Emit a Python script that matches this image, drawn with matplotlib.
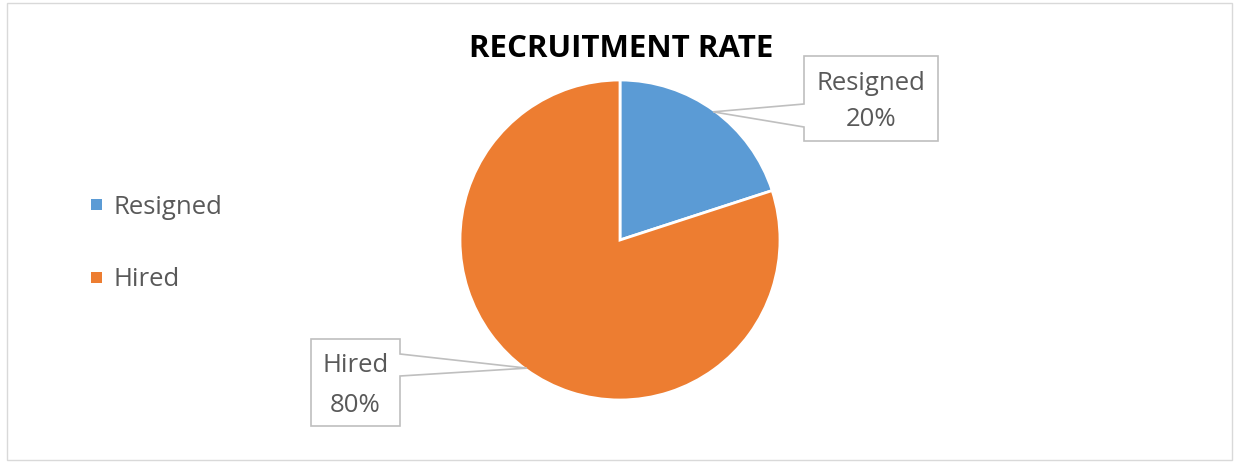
import matplotlib.pyplot as plt
from matplotlib.patches import Rectangle, Polygon
import numpy as np

labels = ["Resigned", "Hired"]
shares = [20, 80]
colors = ["#5B9BD5", "#ED7D31"]

W, H = 1235, 463
fig = plt.figure(figsize=(W / 100, H / 100), dpi=100)
ax = fig.add_axes([0, 0, 1, 1])

font = "Open Sans"
grey = "#595959"

# pie, sized in pixel units of the figure
cx, cy, r = 620, H - 240, 160
wedges, _ = ax.pie(shares, colors=colors, startangle=90, counterclock=False,
                   center=(cx, cy), radius=r, frame=True,
                   wedgeprops=dict(edgecolor="white", linewidth=2))
ax.set_xlim(0, W)
ax.set_ylim(0, H)
ax.set_aspect("equal")
ax.axis("off")

# chart border
ax.add_patch(Rectangle((7, 3), 1225, 457, fill=False, ec="#D9D9D9", lw=1))

ax.text(cx + 1, H - 49, "RECRUITMENT RATE", ha="center", va="center",
        fontsize=22.5, fontweight="bold", family=font, color="black")

# callout boxes: left, top, right, bottom (px from top-left) and pointer base
callouts = [
    dict(box=(804, 56, 938, 141), side="left", base=(104, 127)),
    dict(box=(311, 339, 400, 426), side="right", base=(354, 376)),
]
for w, lab, pct, c in zip(wedges, labels, shares, callouts):
    mid = np.deg2rad((w.theta1 + w.theta2) / 2)
    tx, ty = cx + r * 0.99 * np.cos(mid), cy + r * 0.99 * np.sin(mid)
    x0, y0, x1, y1 = c["box"]
    b0, b1 = c["base"]
    if c["side"] == "left":
        pts = [(x0, H - y0), (x1, H - y0), (x1, H - y1), (x0, H - y1),
               (x0, H - b1), (tx, ty), (x0, H - b0)]
    else:
        pts = [(x0, H - y0), (x1, H - y0), (x1, H - b0), (tx, ty),
               (x1, H - b1), (x1, H - y1), (x0, H - y1)]
    ax.add_patch(Polygon(pts, closed=True, fc="white", ec="#BFBFBF", lw=1.2, zorder=5))
    mx = (x0 + x1) / 2
    ax.text(mx, H - (y0 + 27), lab, ha="center", va="center", fontsize=18.5,
            family=font, color=grey, zorder=6)
    ax.text(mx, H - (y1 - 21), f"{pct}%", ha="center", va="center", fontsize=18.5,
            family=font, color=grey, zorder=6)

# legend
for lab, c, ly in zip(labels, colors, [205, 278]):
    ax.add_patch(Rectangle((91, H - ly - 5), 11, 11, fc=c, ec="none"))
    ax.text(113, H - ly - 2, lab, ha="left", va="center", fontsize=18.5,
            family=font, color=grey)

fig.savefig("out.png", dpi=100)
